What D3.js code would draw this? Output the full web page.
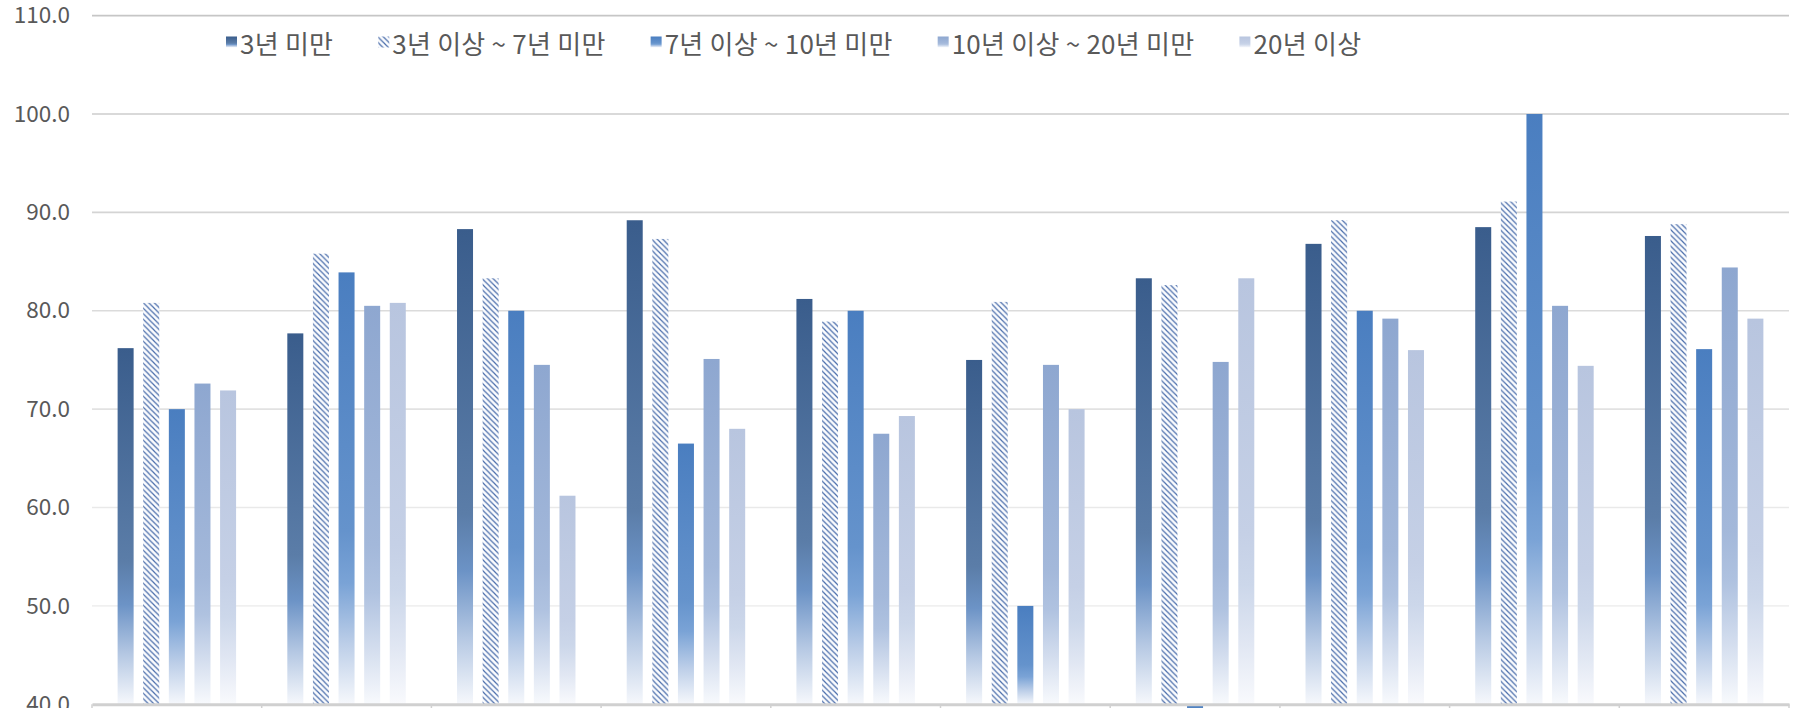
<!DOCTYPE html>
<html>
<head>
<meta charset="utf-8">
<script src="https://cdn.jsdelivr.net/npm/d3@7"></script>
<style>
  html, body { margin: 0; padding: 0; background: #ffffff; }
  svg { display: block; }
  text { font-family: "Noto Sans CJK KR", "Noto Sans", sans-serif; fill: #595959; }
</style>
</head>
<body>
<svg id="chart" width="1798" height="708"></svg>
<script>
// ---- data ----
const categories = ["구분1", "구분2", "구분3", "구분4", "구분5", "구분6", "구분7", "구분8", "구분9", "구분10"];
const seriesNames = ["3년 미만", "3년 이상 ~ 7년 미만", "7년 이상 ~ 10년 미만", "10년 이상 ~ 20년 미만", "20년 이상"];
const under3   = [76.2, 77.7, 88.3, 89.2, 81.2, 75.0, 83.3, 86.8, 88.5, 87.6];
const from3to7 = [80.8, 85.8, 83.3, 87.3, 78.9, 80.9, 82.6, 89.2, 91.1, 88.8];
const from7to10 = [70.0, 83.9, 80.0, 66.5, 80.0, 50.0, 38.0, 80.0, 100.0, 76.1];
const from10to20 = [72.6, 80.5, 74.5, 75.1, 67.5, 74.5, 74.8, 79.2, 80.5, 84.4];
const over20   = [71.9, 80.8, 61.2, 68.0, 69.3, 70.0, 83.3, 76.0, 74.4, 79.2];
const yTicks = [40, 50, 60, 70, 80, 90, 100, 110];
const seriesValues = [under3, from3to7, from7to10, from10to20, over20];

// ---- styles ----
const gradStops = [
  [["#3a5d8c", 0], ["#5b7da8", 0.6], ["#6c93c6", 0.72], ["#b5c8e3", 0.86], ["#f6f8fc", 1]],
  null,
  [["#4a7ec0", 0], ["#6593cc", 0.6], ["#7aa3d6", 0.72], ["#bccee8", 0.86], ["#f6f8fc", 1]],
  [["#8ea7d0", 0], ["#a3b8da", 0.6], ["#afc2e0", 0.72], ["#d3ddee", 0.86], ["#f8fafd", 1]],
  [["#b8c5df", 0], ["#c5d0e6", 0.6], ["#ccd7ea", 0.72], ["#e1e7f3", 0.86], ["#f9fafd", 1]]
];
const hatchColor = "#4a6dab";

const W = 1798, H = 708;
const plot = { left: 92, right: 1789, top: 15.6, bottom: 704.3 };

const svg = d3.select("#chart");
const defs = svg.append("defs");

gradStops.forEach((stops, i) => {
  if (!stops) return;
  const g = defs.append("linearGradient").attr("id", "grad" + i)
    .attr("x1", 0).attr("y1", 0).attr("x2", 0).attr("y2", 1);
  stops.forEach(([c, o]) => g.append("stop").attr("offset", o).attr("stop-color", c));
});
const pat = defs.append("pattern").attr("id", "hatch")
  .attr("patternUnits", "userSpaceOnUse").attr("width", 5.5).attr("height", 5.5);
pat.append("rect").attr("width", 5.5).attr("height", 5.5).attr("fill", "#fbfcfe");
pat.append("path").attr("d", "M-1,-1 L6.5,6.5 M-1,4.5 L1,6.5 M4.5,-1 L6.5,1")
  .attr("stroke", hatchColor).attr("stroke-width", 1.2);

const fillFor = i => i === 1 ? "url(#hatch)" : `url(#grad${i})`;

// ---- scales ----
const y = d3.scaleLinear().domain([40, 110]).range([plot.bottom, plot.top]);
const x0 = d3.scaleBand().domain(categories).range([plot.left, plot.right]).padding(0);
const x1 = d3.scaleBand().domain(d3.range(seriesNames.length))
  .range([0, x0.bandwidth()]).paddingInner(0.375).paddingOuter(1.0);

// ---- gridlines ----
const gridColor = d3.scaleLinear().domain([50, 110]).range(["#f0f0f0", "#c6c6c6"]);
svg.append("g").selectAll("line").data(yTicks.filter(t => t > 40)).join("line")
  .attr("x1", plot.left).attr("x2", plot.right)
  .attr("y1", d => y(d)).attr("y2", d => y(d))
  .attr("stroke", d => gridColor(d)).attr("stroke-width", 1.6);

// ---- y axis labels ----
const yAxis = d3.axisLeft(y).tickValues(yTicks).tickFormat(d3.format(".1f")).tickSize(0).tickPadding(0);
const yg = svg.append("g").attr("transform", `translate(70,0)`).call(yAxis);
yg.select(".domain").remove();
yg.selectAll("text").attr("font-size", 22.5).attr("fill", "#595959")
  .style("font-family", '"Noto Sans CJK KR", "Noto Sans", sans-serif');

// ---- bars ----
const clip = defs.append("clipPath").attr("id", "clipAll");
clip.append("rect").attr("x", 0).attr("y", 0).attr("width", W).attr("height", H);

const barsG = svg.append("g").attr("clip-path", "url(#clipAll)");
categories.forEach((cat, ci) => {
  seriesValues.forEach((vals, si) => {
    const v = vals[ci];
    const top = Math.min(y(v), y(40));
    const h = Math.abs(y(40) - y(v));
    barsG.append("rect")
      .attr("x", x0(cat) + x1(si))
      .attr("y", top)
      .attr("width", x1.bandwidth())
      .attr("height", h)
      .attr("fill", fillFor(si));
  });
});

// ---- bottom axis ----
const xAxis = d3.axisBottom(x0).tickSize(0).tickFormat("");
const xg = svg.append("g").attr("transform", `translate(0,${y(40)})`).call(xAxis);
xg.select(".domain").attr("stroke", "#d0d0d0").attr("stroke-width", 3);
const bounds = categories.map(c => x0(c)).concat([plot.right]);
svg.append("g").selectAll("line").data(bounds).join("line")
  .attr("x1", d => d).attr("x2", d => d)
  .attr("y1", y(40)).attr("y2", y(40) + 8)
  .attr("stroke", "#d0d0d0").attr("stroke-width", 1.5);

// ---- legend ----
const legend = svg.append("g");
let lx = 226;
const ly = 42;
const ms = 11;
seriesNames.forEach((name, i) => {
  legend.append("rect").attr("x", lx).attr("y", ly - ms / 2).attr("width", ms).attr("height", ms)
    .attr("fill", fillFor(i));
  const t = legend.append("text").attr("x", lx + ms + 3).attr("y", ly)
    .attr("dominant-baseline", "central").attr("font-size", 26)
    .attr("letter-spacing", 0.25).attr("fill", "#595959")
    .text(name);
  const w = t.node().getComputedTextLength();
  lx = lx + ms + 3 + w + 45;
});
</script>
</body>
</html>
